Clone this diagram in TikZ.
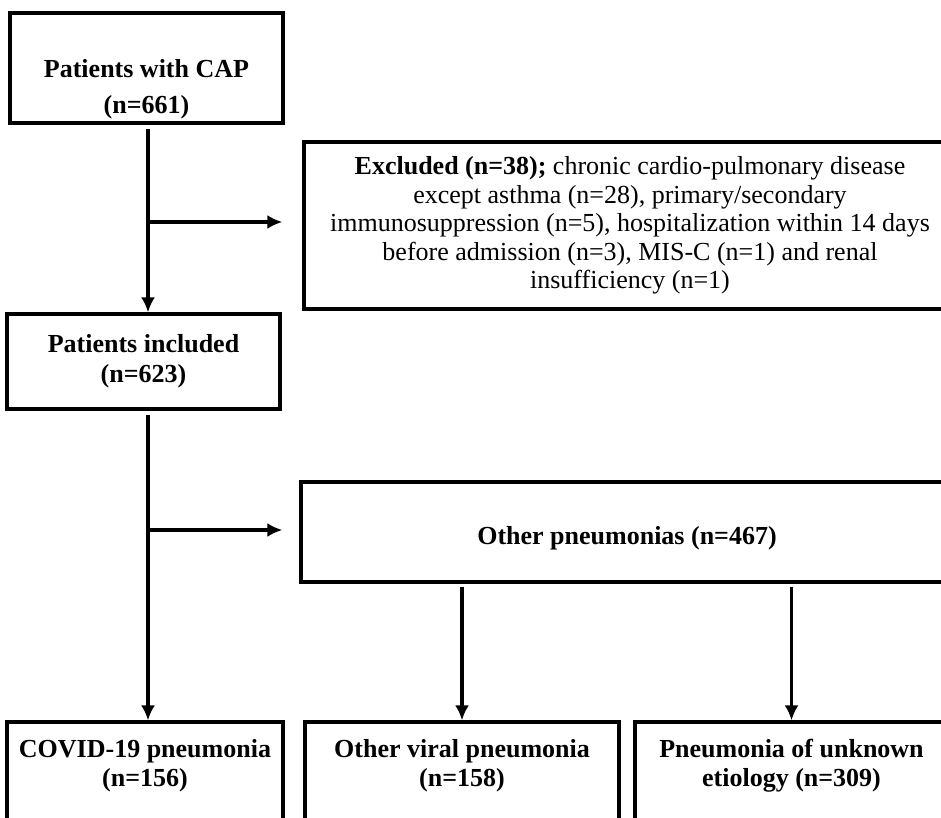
\documentclass[tikz,border=0pt]{standalone}
\usepackage{fontspec}
\setmainfont{Liberation Serif}
\usetikzlibrary{arrows.meta}

\begin{document}
\begin{tikzpicture}[x = 0.5pt, y = -0.5pt, > = {Latex[length = 7.5pt, width = 7pt]},
	box/.style = {draw, line width = 1.6pt, align = center, inner sep = 2pt, font = \fontsize{13}{15}\selectfont\bfseries},
	link/.style = {line width = 1.6pt}]

% Canvas

\path [use as bounding box, clip] (0, 0) rectangle (941, 818);

% Screening

\node [box, minimum width = 136.5pt, minimum height = 55pt, text height = 46pt, text depth = 0pt] (cap) at (146.5, 68) {Patients with CAP\\[3pt](n=661)};

\node [box, font = \fontsize{13}{14.25}\selectfont, minimum width = 326pt, minimum height = 83.5pt] (excl) at (630, 225.5) {\textbf{Excluded (n=38);} chronic cardio-pulmonary disease\\except asthma (n=28), primary/secondary\\immunosuppression (n=5), hospitalization within 14 days\\before admission (n=3), MIS-C (n=1) and renal\\insufficiency (n=1)};

\node [box, minimum width = 136.5pt, minimum height = 47.5pt] (incl) at (143.5, 361.5) {Patients included\\(n=623)};

% Groups

\node [box, minimum width = 326pt, minimum height = 50pt, text height = 12pt, text depth = 0pt] (other) at (627, 532) {Other pneumonias (n=467)};

\node [box, font = \fontsize{13}{14.5}\selectfont\bfseries, minimum width = 138pt, minimum height = 59pt, text height = 5pt, text depth = 0pt] (covid) at (145, 781) {COVID-19 pneumonia\\(n=156)};
\node [box, font = \fontsize{13}{14.5}\selectfont\bfseries, minimum width = 157pt, minimum height = 59pt, text height = 5pt, text depth = 0pt] (viral) at (462, 781) {Other viral pneumonia\\(n=158)};
\node [box, font = \fontsize{13}{14.5}\selectfont\bfseries, minimum width = 156.5pt, minimum height = 59pt, text height = 5pt, text depth = 0pt] (unk) at (791.5, 781) {Pneumonia of unknown\\etiology (n=309)};

% Connectors

\coordinate (split1) at (148, 222);
\coordinate (split2) at (148, 530);

\draw [link, ->, shorten < = 2pt] (cap.south -| split1) -- (incl.north -| split1);
\draw [link, ->, shorten > = 10pt] (split1) -- (split1 -| excl.west);

\draw [link, ->, shorten < = 2pt] (incl.south -| split2) -- (covid.north -| split2);
\draw [link, ->, shorten > = 8.5pt] (split2) -- (split2 -| other.west);

\draw [link, ->, shorten < = 1.5pt] (other.south -| viral.north) -- (viral.north);
\draw [link, ->, shorten < = 1.5pt] (other.south -| unk.north) -- (unk.north);

\end{tikzpicture}
\end{document}
